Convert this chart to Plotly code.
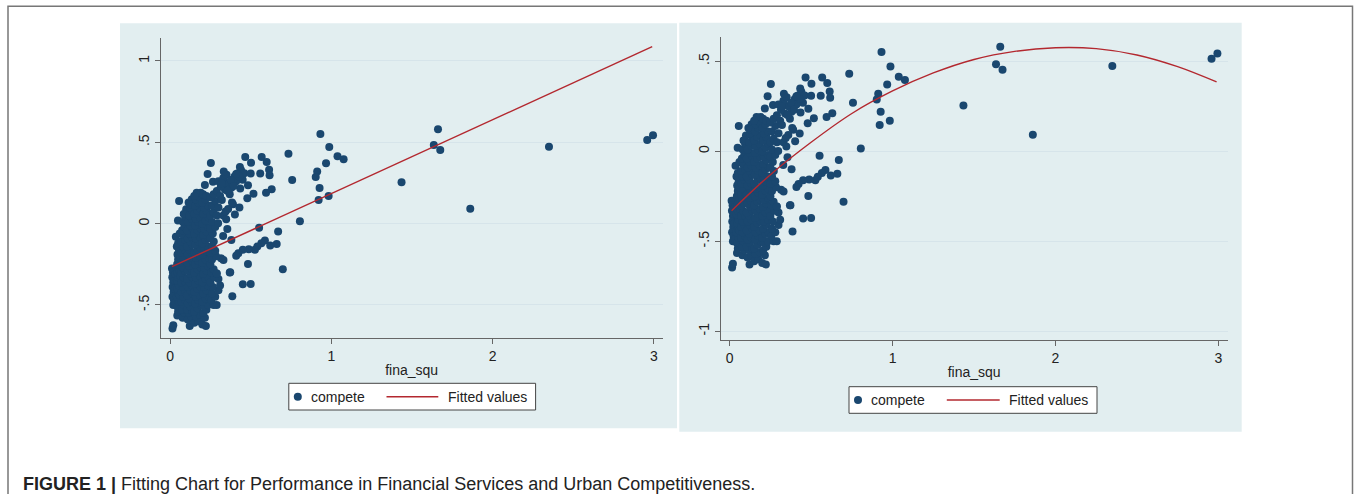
import plotly.graph_objects as go

# ---------------- data ----------------
fina_squ = [
    # dense cluster, x ~ 0.01-0.03
    0.015, 0.02, 0.012, 0.018, 0.014, 0.02, 0.016, 0.022, 0.015, 0.024, 0.02, 0.03, 0.028, 0.03, 0.032,
    # x ~ 0.04-0.06
    0.045, 0.05, 0.045, 0.055, 0.042, 0.052, 0.046, 0.055, 0.043, 0.05, 0.047, 0.055, 0.044, 0.05, 0.046,
    0.055, 0.042, 0.05, 0.036, 0.06, 0.049, 0.056, 0.062, 0.063, 0.06,
    # x ~ 0.07-0.10
    0.078, 0.09, 0.075, 0.085, 0.07, 0.095, 0.08, 0.072, 0.092, 0.08, 0.07, 0.095, 0.082, 0.07, 0.092,
    0.08, 0.07, 0.095, 0.082, 0.072, 0.092, 0.08, 0.07, 0.095, 0.082, 0.075, 0.09, 0.08, 0.095, 0.1, 0.085,
    # x ~ 0.11-0.14
    0.122, 0.11, 0.135, 0.12, 0.105, 0.14, 0.125, 0.11, 0.135, 0.12, 0.105, 0.14, 0.125, 0.11, 0.135,
    0.12, 0.105, 0.14, 0.125, 0.11, 0.135, 0.12, 0.105, 0.14, 0.125, 0.11, 0.135, 0.12, 0.105, 0.14,
    0.125, 0.11, 0.135, 0.12, 0.105, 0.14, 0.125, 0.11, 0.135, 0.12, 0.14, 0.125, 0.115, 0.135, 0.128,
    # x ~ 0.15-0.19
    0.15, 0.175, 0.16, 0.185, 0.15, 0.17, 0.19, 0.155, 0.175, 0.16, 0.185, 0.15, 0.17, 0.19, 0.155,
    0.175, 0.16, 0.185, 0.15, 0.17, 0.19, 0.155, 0.175, 0.16, 0.185, 0.15, 0.17, 0.19, 0.155, 0.175,
    0.16, 0.185, 0.15, 0.17, 0.19, 0.155, 0.175, 0.16, 0.185, 0.15, 0.17, 0.19, 0.155, 0.175, 0.16,
    0.185, 0.165, 0.19, 0.15,
    # x ~ 0.20-0.24
    0.2, 0.222, 0.216, 0.205, 0.225, 0.21, 0.235, 0.2, 0.22, 0.24, 0.205, 0.225, 0.21, 0.235, 0.2,
    0.22, 0.24, 0.205, 0.225, 0.21, 0.235, 0.2, 0.22, 0.24, 0.205, 0.225, 0.21, 0.235, 0.2, 0.22,
    0.24, 0.205, 0.225, 0.21, 0.235, 0.2, 0.22, 0.24, 0.205, 0.225, 0.21, 0.235, 0.2, 0.22, 0.205,
    0.225, 0.216,
    # x ~ 0.25-0.32
    0.27, 0.289, 0.255, 0.28, 0.26, 0.3, 0.31, 0.265, 0.25, 0.3, 0.275, 0.255, 0.289, 0.27, 0.25,
    0.316, 0.331, 0.26, 0.285, 0.25, 0.28, 0.26, 0.271, 0.25, 0.265, 0.25, 0.28, 0.26, 0.25, 0.27,
    0.26, 0.28, 0.25, 0.298, 0.29, 0.3, 0.27, 0.253, 0.233, 0.266, 0.29, 0.31,
    # upper fan, x ~ 0.3-0.65
    0.34, 0.36, 0.4, 0.42, 0.44, 0.45, 0.41, 0.38, 0.33, 0.35, 0.46, 0.43, 0.37, 0.315, 0.3, 0.39,
    0.36, 0.33,
    0.466, 0.568, 0.599, 0.502, 0.433, 0.614, 0.617, 0.559, 0.5, 0.41, 0.333, 0.321, 0.377, 0.483,
    0.63, 0.595, 0.517, 0.479, 0.435, 0.395, 0.355, 0.321, 0.384, 0.43, 0.402, 0.348, 0.344,
    # lower branch, x ~ 0.3-0.7
    0.552, 0.355, 0.329, 0.38, 0.588, 0.621, 0.566, 0.541, 0.526, 0.488, 0.451, 0.423, 0.41, 0.373,
    0.483, 0.451, 0.5, 0.386, 0.289, 0.37,
    # outliers
    0.932, 0.987, 1.038, 1.076, 0.967, 0.912, 0.903, 0.927, 0.921, 0.983, 0.734, 0.757, 0.805, 0.67,
    0.661, 0.699, 1.435, 1.635, 1.661, 1.675, 1.861, 2.349, 2.958, 2.994,
]

compete = [
    -0.645, -0.625, -0.275, -0.30, -0.33, -0.36, -0.39, -0.42, -0.45, -0.47, -0.50, -0.49, -0.35, -0.40, -0.31,
    -0.565, -0.54, -0.51, -0.48, -0.45, -0.43, -0.40, -0.38, -0.35, -0.33, -0.30, -0.28, -0.25, -0.22, -0.19,
    -0.17, -0.14, -0.12, -0.08, -0.06, 0.02, 0.14, -0.2, -0.32, -0.44,
    -0.578, -0.55, -0.53, -0.5, -0.48, -0.47, -0.45, -0.42, -0.41, -0.39, -0.36, -0.36, -0.33, -0.30, -0.29,
    -0.27, -0.24, -0.23, -0.21, -0.18, -0.16, -0.14, -0.11, -0.10, -0.07, -0.04, -0.02, 0.01, 0.04, 0.088, 0.06,
    -0.629, -0.59, -0.58, -0.55, -0.53, -0.54, -0.51, -0.49, -0.48, -0.46, -0.44, -0.43, -0.41, -0.39, -0.38,
    -0.36, -0.34, -0.33, -0.31, -0.29, -0.28, -0.26, -0.24, -0.23, -0.21, -0.19, -0.18, -0.16, -0.14, -0.13,
    -0.11, -0.09, -0.08, -0.06, -0.04, -0.03, -0.01, 0.01, 0.03, 0.05, 0.08, 0.10, 0.13, 0.15, 0.12,
    -0.61, -0.60, -0.57, -0.56, -0.54, -0.52, -0.50, -0.49, -0.47, -0.45, -0.44, -0.42, -0.40, -0.39, -0.37,
    -0.35, -0.33, -0.32, -0.30, -0.28, -0.27, -0.25, -0.23, -0.21, -0.20, -0.18, -0.16, -0.15, -0.13, -0.11,
    -0.09, -0.08, -0.06, -0.04, -0.03, -0.01, 0.01, 0.03, 0.04, 0.06, 0.08, 0.09, 0.11, 0.13, 0.15,
    0.16, 0.19, 0.19, 0.17,
    -0.62, -0.629, -0.578, -0.55, -0.53, -0.51, -0.50, -0.48, -0.46, -0.45, -0.43, -0.41, -0.39, -0.38, -0.36,
    -0.34, -0.33, -0.31, -0.29, -0.27, -0.26, -0.24, -0.22, -0.21, -0.19, -0.17, -0.15, -0.14, -0.12, -0.10,
    -0.09, -0.07, -0.05, -0.03, -0.02, 0.0, 0.02, 0.04, 0.06, 0.08, 0.10, 0.11, 0.13, 0.15, 0.18,
    0.17, 0.238,
    -0.50, -0.50, -0.47, -0.45, -0.43, -0.41, -0.38, -0.39, -0.36, -0.34, -0.33, -0.30, -0.306, -0.28, -0.25,
    -0.213, -0.223, -0.22, -0.20, -0.18, -0.166, -0.14, -0.11, -0.09, -0.06, -0.03, -0.02, 0.01, 0.05, 0.07,
    0.11, 0.14, 0.16, 0.002, 0.05, 0.1, 0.18, 0.373, 0.305, 0.257, 0.2, 0.17,
    0.21, 0.25, 0.29, 0.31, 0.33, 0.27, 0.26, 0.22, 0.28, 0.3, 0.31, 0.29, 0.18, 0.23, 0.26, 0.12,
    0.09, 0.05,
    0.41, 0.41, 0.379, 0.375, 0.348, 0.332, 0.297, 0.309, 0.309, 0.305, 0.32, 0.249, 0.269, 0.236,
    0.211, 0.19, 0.184, 0.156, 0.216, 0.231, 0.202, 0.146, 0.13, 0.099, 0.056, 0.027, 0.074,
    -0.025, -0.033, -0.076, -0.1, -0.104, -0.135, -0.12, -0.141, -0.161, -0.157, -0.161, -0.182, -0.198, -0.299,
    -0.248, -0.373, -0.371, -0.446, -0.306, -0.30,
    0.551, 0.471, 0.414, 0.396, 0.371, 0.32, 0.287, 0.219, 0.146, 0.17, 0.43, 0.269, 0.015, -0.049,
    -0.125, -0.28, 0.254, 0.484, 0.58, 0.453, 0.092, 0.473, 0.514, 0.543,
]

# fitted values
lin_fit_x = [0.012, 2.989]
lin_fit_y = [-0.264, 1.088]
quad_fit_x = [0.012, 0.25, 0.5, 0.75, 1.0, 1.25, 1.5, 1.75, 2.0, 2.25, 2.5, 2.75, 2.989]
quad_fit_y = [-0.33, -0.13, 0.05, 0.21, 0.335, 0.435, 0.51, 0.555, 0.575, 0.57, 0.535, 0.47, 0.385]

x_tickvals = [0, 1, 2, 3]
x_ticktext = ["0", "1", "2", "3"]
y_left_tickvals = [-0.5, 0, 0.5, 1]
y_left_ticktext = ["-.5", "0", ".5", "1"]
y_right_tickvals = [-1, -0.5, 0, 0.5]
y_right_ticktext = ["-1", "-.5", "0", ".5"]

legend_labels = ["compete", "Fitted values"]
caption_bold = "FIGURE 1 |"
caption_text = "Fitting Chart for Performance in Financial Services and Urban Competitiveness."

# ---------------- styling ----------------
W, H = 1356, 494
NAVY = "#1a476f"
RED = "#b3282f"
PANEL = "#e2eef0"
GRID = "#d6e4ea"
AXIS = "#666666"
FONT = "Liberation Sans, Arial, sans-serif"


def px(x):
    return x / W


def py(y):
    return 1 - y / H


fig = go.Figure()

marker = dict(color=NAVY, size=8, line=dict(width=0))

fig.add_trace(go.Scatter(x=fina_squ, y=compete, mode="markers", marker=marker,
                         name=legend_labels[0], xaxis="x", yaxis="y", showlegend=False))
fig.add_trace(go.Scatter(x=lin_fit_x, y=lin_fit_y, mode="lines", line=dict(color=RED, width=1.4),
                         name=legend_labels[1], xaxis="x", yaxis="y", showlegend=False))
fig.add_trace(go.Scatter(x=fina_squ, y=compete, mode="markers", marker=marker,
                         name=legend_labels[0], xaxis="x2", yaxis="y2", showlegend=False))
fig.add_trace(go.Scatter(x=quad_fit_x, y=quad_fit_y, mode="lines",
                         line=dict(color=RED, width=1.4, shape="spline"),
                         name=legend_labels[1], xaxis="x2", yaxis="y2", showlegend=False))

axis_common = dict(showline=True, linecolor=AXIS, linewidth=1, ticks="outside", ticklen=5,
                   tickcolor=AXIS, tickwidth=1, tickfont=dict(family=FONT, size=14, color="#222"),
                   zeroline=False)
title_font = dict(family=FONT, size=14, color="#222")

fig.update_layout(
    width=W, height=H,
    margin=dict(l=0, r=0, t=0, b=0),
    paper_bgcolor="white", plot_bgcolor="white",
    font=dict(family=FONT, color="#222"),
    showlegend=False,
    xaxis=dict(domain=[px(160.7), px(662.7)], anchor="y", range=[-0.058, 3.054],
               tickvals=x_tickvals, ticktext=x_ticktext, showgrid=False,
               title=dict(text="fina_squ", font=title_font, standoff=2), **axis_common),
    yaxis=dict(domain=[py(338), py(38.3)], anchor="x", range=[-0.703, 1.1395],
               tickvals=y_left_tickvals, ticktext=y_left_ticktext, tickangle=-90,
               showgrid=True, gridcolor=GRID, gridwidth=1, **axis_common),
    xaxis2=dict(domain=[px(720.7), px(1227.5)], anchor="y2", range=[-0.055, 3.056],
                tickvals=x_tickvals, ticktext=x_ticktext, showgrid=False,
                title=dict(text="fina_squ", font=title_font, standoff=2), **axis_common),
    yaxis2=dict(domain=[py(340), py(37.3)], anchor="x2", range=[-1.048, 0.633],
                tickvals=y_right_tickvals, ticktext=y_right_ticktext, tickangle=-90,
                showgrid=True, gridcolor=GRID, gridwidth=1, **axis_common),
)

shapes = [
    # outer frame
    dict(type="rect", xref="paper", yref="paper", x0=px(8), x1=px(1352.5), y0=py(520), y1=py(6.3),
         line=dict(color="#777", width=1.5), fillcolor="rgba(0,0,0,0)", layer="below"),
    # graph regions
    dict(type="rect", xref="paper", yref="paper", x0=px(120), x1=px(677), y0=py(428.3), y1=py(23.3),
         line=dict(width=0), fillcolor=PANEL, layer="below"),
    dict(type="rect", xref="paper", yref="paper", x0=px(679.3), x1=px(1241.7), y0=py(431.7), y1=py(22.7),
         line=dict(width=0), fillcolor=PANEL, layer="below"),
]

annotations = []

# legend boxes drawn per panel: (box x0, x1, y0, y1, marker cx, text1 x, line x0, x1, text2 x, cy)
legend_geoms = [
    (288.8, 535.6, 383.3, 410.0, 297.8, 309.6, 386.5, 438.3, 447.3, 396.7),
    (849.0, 1097.0, 386.7, 413.3, 858.0, 870.0, 946.8, 999.7, 1008.4, 400.0),
]
for bx0, bx1, by0, by1, mcx, t1x, lx0, lx1, t2x, cy in legend_geoms:
    shapes.append(dict(type="rect", xref="paper", yref="paper", x0=px(bx0), x1=px(bx1),
                       y0=py(by1), y1=py(by0), fillcolor="white", line=dict(color="#444", width=1),
                       layer="above"))
    shapes.append(dict(type="circle", xref="paper", yref="paper", x0=px(mcx - 4), x1=px(mcx + 4),
                       y0=py(cy + 4), y1=py(cy - 4), fillcolor=NAVY, line=dict(width=0), layer="above"))
    shapes.append(dict(type="line", xref="paper", yref="paper", x0=px(lx0), x1=px(lx1),
                       y0=py(cy), y1=py(cy), line=dict(color=RED, width=1.4), layer="above"))
    annotations.append(dict(xref="paper", yref="paper", x=px(t1x), y=py(cy), xanchor="left",
                            yanchor="middle", showarrow=False, text=legend_labels[0],
                            font=dict(family=FONT, size=14, color="#222"), borderpad=0))
    annotations.append(dict(xref="paper", yref="paper", x=px(t2x), y=py(cy), xanchor="left",
                            yanchor="middle", showarrow=False, text=legend_labels[1],
                            font=dict(family=FONT, size=14, color="#222"), borderpad=0))

annotations.append(dict(xref="paper", yref="paper", x=px(22), y=py(483.5), xanchor="left",
                        yanchor="middle", showarrow=False, align="left", borderpad=0,
                        text="<b>" + caption_bold + "</b> " + caption_text,
                        font=dict(family=FONT, size=18, color="#222")))

fig.update_layout(shapes=shapes, annotations=annotations)

fig.write_html("out.html", config={"displayModeBar": False},
               post_script="document.body.style.margin='0px';document.body.style.overflow='hidden';")
